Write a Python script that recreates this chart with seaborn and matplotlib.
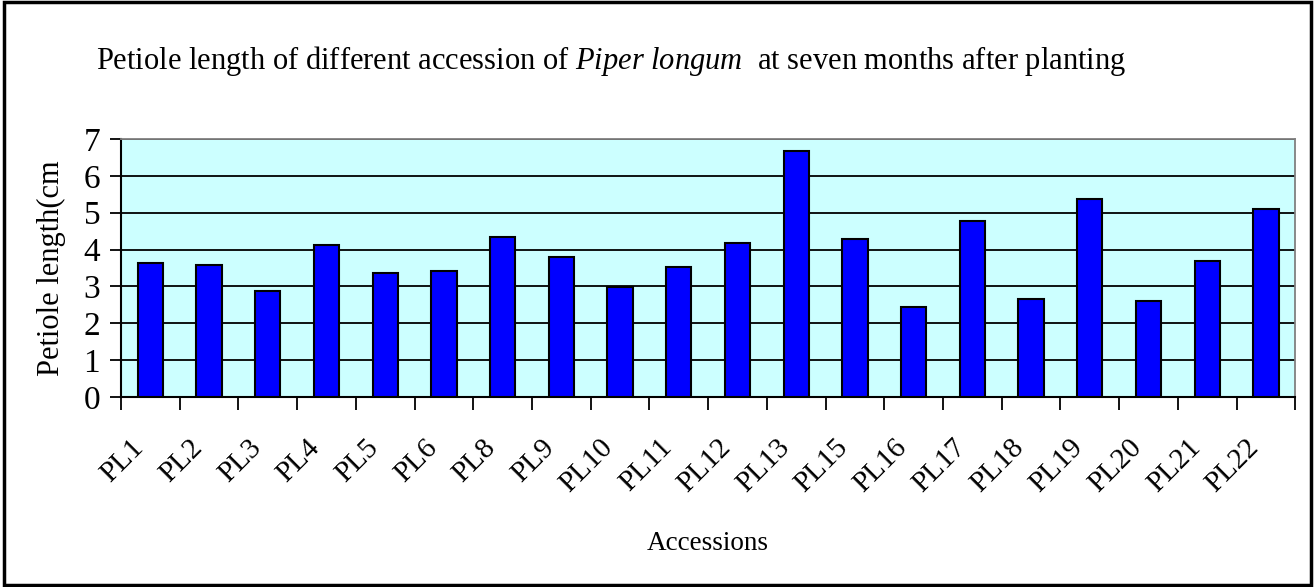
import matplotlib
matplotlib.use("Agg")
import matplotlib.pyplot as plt
import matplotlib.transforms as mtransforms
import seaborn as sns
import pandas as pd
from matplotlib.patches import Rectangle

# data
accessions = ["PL1", "PL2", "PL3", "PL4", "PL5", "PL6", "PL8", "PL9", "PL10", "PL11",
              "PL12", "PL13", "PL15", "PL16", "PL17", "PL18", "PL19", "PL20", "PL21", "PL22"]
petiole_cm = [3.64, 3.59, 2.88, 4.13, 3.37, 3.42, 4.35, 3.80, 2.99, 3.53,
              4.18, 6.68, 4.29, 2.45, 4.78, 2.66, 5.38, 2.61, 3.70, 5.11]
y_ticks = [0, 1, 2, 3, 4, 5, 6, 7]

df = pd.DataFrame({"Accession": accessions, "Petiole": petiole_cm})

plt.rcParams["font.family"] = ["Liberation Serif", "DejaVu Serif"]
plt.rcParams["mathtext.fontset"] = "custom"
plt.rcParams["mathtext.rm"] = "Liberation Serif"
plt.rcParams["mathtext.it"] = "Liberation Serif:italic"

fig = plt.figure(figsize=(13.15, 5.87), dpi=100)
ax = fig.add_axes([0.092, 0.3237, 0.893, 0.4395])
ax.set_facecolor("#CCFFFF")

sns.barplot(data=df, x="Accession", y="Petiole", color="#0000FF", saturation=1,
            width=0.43, edgecolor="black", linewidth=1.5, ax=ax, zorder=3)

ax.set_ylim(0, 7)
ax.set_xlim(-0.5, len(accessions) - 0.5)
ax.set_yticks(y_ticks)
ax.yaxis.grid(True, color="black", linewidth=1.3, zorder=1)
ax.set_axisbelow(True)

# ticks at category boundaries, labels at centres
ax.set_xticks([i - 0.5 for i in range(len(accessions) + 1)], minor=True)
ax.tick_params(axis="x", which="minor", length=9, width=1.3, direction="out")
ax.tick_params(axis="x", which="major", length=0, pad=27)
ax.tick_params(axis="y", length=8, width=1.3, labelsize=24, pad=7)
shift = mtransforms.ScaledTranslation(-20 / 100, 0, fig.dpi_scale_trans)
for lab in ax.get_xticklabels():
    lab.set_rotation(45)
    lab.set_ha("right")
    lab.set_rotation_mode("anchor")
    lab.set_fontsize(21)
    lab.set_transform(lab.get_transform() + shift)

for side in ["left", "bottom"]:
    ax.spines[side].set_color("black")
    ax.spines[side].set_linewidth(1.5)
for side in ["top", "right"]:
    ax.spines[side].set_color("#808080")
    ax.spines[side].set_linewidth(1.3)

ax.set_xlabel("Accessions", fontsize=19.5, va="center")
ax.xaxis.set_label_coords(0.5, -0.566)
ax.set_ylabel("Petiole length(cm", fontsize=22, va="center")
ax.yaxis.set_label_coords(-0.0596, 0.5)

fig.text(0.465, 0.896, r"Petiole length of different accession of $\it{Piper\ longum}$  at seven months after planting",
         ha="center", va="center", fontsize=22)

fig.patches.append(Rectangle((0.003, 0.004), 0.994, 0.992, transform=fig.transFigure,
                             fill=False, edgecolor="black", linewidth=2.5))

fig.savefig("out.png", dpi=100)
